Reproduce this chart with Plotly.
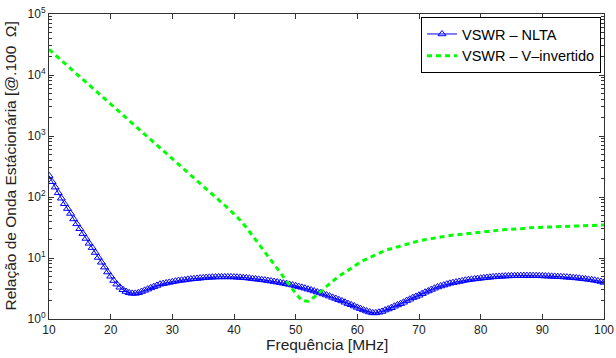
import plotly.graph_objects as go

# Blue series: VSWR - NLTA, frequency 10..100 MHz every 0.5 MHz
freq_nlta = [10 + 0.5 * i for i in range(181)]
vswr_nlta = [
    224, 178, 145, 117, 95.5, 77.6, 64.6, 53.7, 43.7, 36.3,
    30.2, 25.1, 20.9, 17.4, 14.8, 12.3, 10.2, 8.51, 7.08, 5.89,
    5.01, 4.27, 3.72, 3.31, 3.02, 2.82, 2.69, 2.63, 2.63, 2.69,
    2.82, 2.95, 3.09, 3.24, 3.39, 3.55, 3.72, 3.80, 3.89, 3.98,
    4.07, 4.17, 4.27, 4.32, 4.37, 4.47, 4.52, 4.57, 4.62, 4.68,
    4.73, 4.79, 4.82, 4.85, 4.88, 4.90, 4.90, 4.90, 4.90, 4.90,
    4.88, 4.84, 4.81, 4.76, 4.72, 4.66, 4.59, 4.53, 4.47, 4.41,
    4.34, 4.27, 4.19, 4.11, 4.03, 3.94, 3.86, 3.78, 3.69, 3.60,
    3.50, 3.40, 3.30, 3.20, 3.09, 2.99, 2.88, 2.77, 2.67, 2.57,
    2.47, 2.37, 2.26, 2.17, 2.07, 1.98, 1.88, 1.79, 1.71, 1.63,
    1.55, 1.48, 1.41, 1.35, 1.30, 1.26, 1.26, 1.29, 1.33, 1.40,
    1.46, 1.53, 1.62, 1.70, 1.78, 1.88, 2.00, 2.11, 2.24, 2.34,
    2.45, 2.60, 2.75, 2.88, 3.05, 3.20, 3.35, 3.47, 3.59, 3.72,
    3.85, 3.94, 4.03, 4.12, 4.22, 4.32, 4.40, 4.47, 4.54, 4.60,
    4.67, 4.73, 4.79, 4.84, 4.90, 4.94, 4.99, 5.02, 5.06, 5.08,
    5.11, 5.12, 5.13, 5.14, 5.15, 5.15, 5.15, 5.14, 5.13, 5.12,
    5.09, 5.07, 5.05, 5.01, 4.99, 4.95, 4.92, 4.89, 4.85, 4.81,
    4.76, 4.71, 4.66, 4.59, 4.53, 4.46, 4.39, 4.31, 4.22, 4.12,
    3.98,
]

# Green series: VSWR - V-invertido, frequency 10..100 MHz every 1 MHz
freq_v = list(range(10, 101))
vswr_v = [
    26300, 21400, 17400, 14200, 11500, 9370, 7620, 6190, 5040, 4100,
    3340, 2710, 2210, 1790, 1460, 1190, 966, 785, 638, 520,
    423, 344, 280, 228, 185, 151, 122, 99.6, 81.0, 65.9,
    52.5, 41.7, 31.6, 23.4, 17.4, 12.9, 9.33, 6.76, 4.90, 3.55,
    2.63, 2.00, 1.95, 2.29, 2.82, 3.47, 4.17, 5.01, 5.89, 6.92,
    7.94, 9.12, 10.2, 11.5, 12.6, 13.8, 14.8, 15.8, 17.0, 18.2,
    19.1, 20.0, 20.9, 21.9, 22.6, 23.4, 24.0, 24.5, 25.1, 26.0,
    26.6, 27.2, 27.9, 28.5, 29.2, 29.5, 30.2, 30.5, 31.3, 31.6,
    32.0, 32.4, 32.7, 33.1, 33.5, 33.9, 34.0, 34.3, 34.5, 34.7,
    34.8,
]

x_ticks = [10, 20, 30, 40, 50, 60, 70, 80, 90, 100]
y_ticks = [1, 10, 100, 1000, 10000, 100000]
y_ticktext = ["10<sup>0</sup>", "10<sup>1</sup>", "10<sup>2</sup>",
              "10<sup>3</sup>", "10<sup>4</sup>", "10<sup>5</sup>"]
x_title = "Frequência [MHz]"
y_title = "Relação de Onda Estácionária [@.100  Ω]"

FONT = "Liberation Sans, Arial, sans-serif"
TXT = "#222222"

fig = go.Figure()
fig.add_trace(go.Scatter(
    x=freq_nlta, y=vswr_nlta, mode="lines+markers",
    name="VSWR \u2013 NLTA",
    line=dict(color="rgb(0,0,255)", width=1),
    marker=dict(symbol="triangle-up-open", size=7, color="rgb(0,0,255)",
                line=dict(width=1, color="rgb(0,0,255)")),
))
fig.add_trace(go.Scatter(
    x=freq_v, y=vswr_v, mode="lines",
    name="VSWR \u2013 V\u2013invertido",
    line=dict(color="rgb(0,255,0)", width=3, dash="5px,4px"),
))

axis_common = dict(
    showline=True, linecolor="#333333", linewidth=1, mirror="ticks",
    ticks="inside", tickcolor="#333333", ticklen=5,
    showgrid=False, zeroline=False, automargin=False,
)

fig.update_xaxes(
    range=[10, 100], tickvals=x_ticks,
    tickfont=dict(family=FONT, size=12, color=TXT),
    **axis_common,
)
fig.update_yaxes(
    type="log", range=[0, 5], tickvals=y_ticks, ticktext=y_ticktext,
    tickfont=dict(family=FONT, size=12, color=TXT),
    minor=dict(ticks="inside", ticklen=3, tickcolor="#333333", dtick="D1"),
    **axis_common,
)

fig.add_annotation(
    text=x_title, xref="paper", yref="paper", x=0.5, y=0,
    xanchor="center", yanchor="middle", yshift=-25, showarrow=False,
    font=dict(family=FONT, size=15.5, color=TXT),
)
fig.add_annotation(
    text=y_title, xref="paper", yref="paper", x=0, y=0.5,
    xanchor="center", yanchor="middle", xshift=-39, textangle=-90,
    showarrow=False, font=dict(family=FONT, size=15.5, color=TXT),
)

fig.update_layout(
    width=616, height=358,
    margin=dict(l=49, r=12, t=14, b=39),
    paper_bgcolor="white", plot_bgcolor="white",
    font=dict(family=FONT, color=TXT),
    showlegend=True,
    legend=dict(
        x=0.9946, xanchor="right", y=0.99, yanchor="top",
        bgcolor="white", bordercolor="black", borderwidth=1,
        font=dict(family=FONT, size=14.5, color="black"),
        tracegroupgap=0, itemwidth=30,
    ),
)

# remove the default page margin so the 616x358 figure fills the window
fig.write_html("out.html", config={"displayModeBar": False},
               post_script="document.body.style.margin='0';")
